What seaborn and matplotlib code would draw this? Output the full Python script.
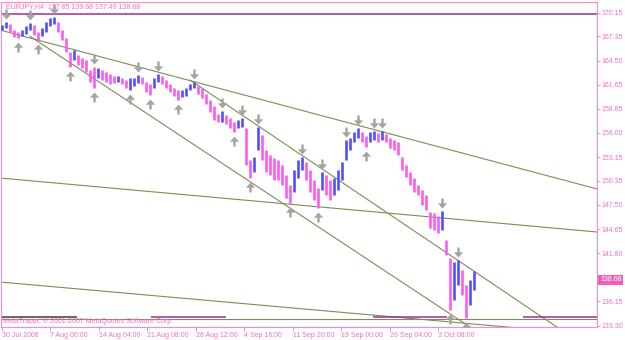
import matplotlib
matplotlib.use("Agg")
import numpy as np
import pandas as pd
import seaborn as sns
import matplotlib.pyplot as plt
from matplotlib.path import Path
from matplotlib import transforms

sns.set_style("white")
plt.rcParams['font.family'] = ['Liberation Sans', 'DejaVu Sans']

# ---------------- data (EURJPY H4) ----------------
high = [168.70, 169.05, 168.82, 168.11, 167.88, 168.11, 168.58, 168.94, 168.70, 167.88,
        168.35, 169.05, 169.53, 169.64, 169.05, 168.11, 167.17, 165.52, 165.76, 165.17,
        164.81, 164.58, 163.40, 163.75, 163.64, 163.40, 163.17, 162.93, 162.69, 162.69,
        162.46, 162.22, 162.46, 162.46, 162.81, 162.58, 161.99, 161.75, 162.46, 162.93,
        162.69, 162.22, 161.75, 161.28, 161.05, 161.05, 161.28, 161.75, 161.99, 161.52,
        161.28, 160.58, 159.87, 159.16, 158.22, 158.57, 158.10, 157.75, 157.28, 157.51,
        157.75, 156.57, 152.80, 153.16, 156.69, 155.75, 153.98, 153.39, 153.04, 152.80,
        152.21, 151.04, 149.86, 151.62, 152.80, 153.16, 152.57, 151.62, 150.45, 149.50,
        151.39, 151.04, 150.45, 150.68, 151.62, 152.57, 155.16, 155.39, 156.10, 156.57,
        156.10, 155.63, 156.10, 156.22, 155.98, 156.22, 155.87, 155.39, 155.16, 154.92,
        153.16, 152.21, 151.39, 150.68, 149.86, 149.27, 148.68, 146.68, 146.56, 146.21,
        146.80, 143.38, 141.26, 140.79, 141.03, 139.85, 138.08, 138.67, 139.68]
low = [168.11, 168.35, 167.88, 167.29, 167.17, 167.41, 167.64, 168.11, 167.52, 166.94,
       167.41, 167.88, 168.58, 168.82, 167.88, 166.94, 165.52, 163.75, 164.58, 163.99,
       163.64, 163.17, 161.99, 161.28, 162.46, 162.22, 161.99, 161.75, 161.87, 161.99,
       161.75, 161.28, 161.05, 161.52, 161.87, 161.75, 160.81, 160.46, 161.28, 161.99,
       161.75, 161.28, 160.81, 160.34, 159.87, 160.22, 160.34, 161.05, 161.28, 160.58,
       160.10, 159.40, 158.46, 157.51, 157.28, 157.28, 157.04, 156.57, 156.10, 156.57,
       156.69, 152.21, 150.68, 151.39, 153.98, 152.80, 151.39, 151.04, 150.45, 150.45,
       149.86, 148.33, 147.74, 149.03, 150.68, 151.62, 150.45, 149.03, 148.09, 147.15,
       149.27, 148.68, 148.09, 148.68, 149.27, 150.45, 152.80, 153.98, 154.92, 155.39,
       154.92, 154.33, 154.92, 155.16, 154.92, 155.16, 154.92, 154.22, 153.98, 153.39,
       151.62, 150.80, 149.86, 149.03, 148.68, 147.50, 146.91, 144.79, 144.56, 144.21,
       144.56, 141.61, 135.14, 136.31, 138.08, 136.90, 134.19, 135.73, 137.49]

last_ohlc = [137.85, 139.68, 137.49, 138.68]

fractal_down = [1, 7, 13, 23, 34, 39, 48, 55, 60, 64, 75, 80, 86, 89, 93, 95, 110, 114]
fractal_up = [4, 9, 17, 23, 32, 37, 44, 58, 62, 72, 79, 91, 112, 116]

date_labels = ["30 Jul 2008", "7 Aug 00:00", "14 Aug 04:00", "21 Aug 08:00",
               "28 Aug 12:00", "4 Sep 16:00", "11 Sep 20:00", "19 Sep 00:00",
               "26 Sep 04:00", "3 Oct 08:00"]
bars_per_label = 12.1125

price_ticks = [170.15, 167.35, 164.50, 161.65, 158.85, 156.00, 153.15, 150.35,
               147.50, 144.65, 141.80, 139.00, 136.15, 133.30]
hidden_tick = 139.00  # covered by the current-price box

# trend lines (bar index, price) -> (bar index, price)
trend_x0 = [-0.5, 7.0, 47.0, -0.5, -0.5, -0.5]
trend_p0 = [168.11, 167.37, 162.22, 150.68, 138.43, 134.10]
trend_x1 = [148.75, 129.5, 148.75, 148.75, 148.75, 148.75]
trend_p1 = [149.39, 129.23, 129.95, 144.32, 132.19, 134.10]

# horizontal level segments (bar index ranges, price)
level_x0 = [-0.5, -0.5, 37.25, 92.75, 130.25]
level_x1 = [148.75, 18.75, 56.0, 111.25, 148.75]
level_p = [169.94, 134.27, 134.27, 134.27, 134.27]
level_c = ["#993399", "#5a2a5a", "#993399", "#993399", "#993399"]

# ---------------- styling ----------------
PINK = "#F070C8"
SPINE = "#FF88C8"
UP_C = "#5050FF"
DN_C = "#FF5AF0"
LINE_C = "#7F8C55"
ARROW_C = "#A4A4A4"

W, H = 625, 340
fig = plt.figure(figsize=(W / 100, H / 100), dpi=100)
ax = fig.add_axes([1 / W, 1 - 327 / H, 596 / W, 325 / H])
ax.set_facecolor("white")

n = len(high)
idx = np.arange(n)
df = pd.DataFrame({"i": idx, "high": high, "low": low})
df["mid"] = (df["high"] + df["low"]) / 2
df["up"] = df["mid"].diff().fillna(0) >= 0

# trend lines
for x0, p0, x1, p1 in zip(trend_x0, trend_p0, trend_x1, trend_p1):
    sns.lineplot(x=[x0, x1], y=[p0, p1], ax=ax, color=LINE_C, lw=0.8,
                 estimator=None, sort=False, zorder=2)

# horizontal levels
for x0, x1, p, c in zip(level_x0, level_x1, level_p, level_c):
    ax.hlines(p, x0, x1, colors=c, lw=1.1, zorder=2)

# bars
for up, sub in df.groupby("up"):
    ax.vlines(sub["i"], sub["low"], sub["high"], colors=UP_C if up else DN_C,
              lw=1.9, zorder=3)

# fractal arrows
down_arrow = Path([(-0.12, 0.5), (0.12, 0.5), (0.12, 0.02), (0.46, 0.02),
                   (0.0, -0.5), (-0.46, 0.02), (-0.12, 0.02), (-0.12, 0.5)],
                  [Path.MOVETO] + [Path.LINETO] * 6 + [Path.CLOSEPOLY])
up_arrow = Path([(x, -y) for x, y in down_arrow.vertices], down_arrow.codes)
off_dn = transforms.offset_copy(ax.transData, fig=fig, y=6.0, units="points")
off_up = transforms.offset_copy(ax.transData, fig=fig, y=-6.4, units="points")
ax.scatter(df.loc[fractal_down, "i"], df.loc[fractal_down, "high"], marker=down_arrow,
           s=52, c=ARROW_C, lw=0, transform=off_dn, zorder=4)
ax.scatter(df.loc[fractal_up, "i"], df.loc[fractal_up, "low"], marker=up_arrow,
           s=52, c=ARROW_C, lw=0, transform=off_up, zorder=4)

# axes
ax.set_xlim(-0.25, 148.75)
ax.set_ylim(133.13, 171.41)
ax.yaxis.tick_right()
ax.set_yticks(price_ticks)
ax.set_yticklabels(["" if v == hidden_tick else f"{v:.2f}" for v in price_ticks])
ax.set_xticks([k * bars_per_label for k in range(len(date_labels))])
ax.set_xticklabels(date_labels)
for lbl in ax.get_xticklabels():
    lbl.set_horizontalalignment("left")
ax.tick_params(axis="y", right=True, left=False, length=2.2, width=0.7, colors=SPINE,
               labelcolor=PINK, labelsize=5, pad=1)
ax.tick_params(axis="x", bottom=True, length=3, width=0.7, colors=SPINE,
               labelcolor=PINK, labelsize=5, pad=0.5)
for s in ax.spines.values():
    s.set_color(SPINE)
    s.set_linewidth(0.8)
ax.set_xlabel("")
ax.set_ylabel("")

# current price box
ax.annotate(f"{last_ohlc[3]:.2f}", xy=(1.0, last_ohlc[3]),
            xycoords=("axes fraction", "data"), xytext=(2.2, 0),
            textcoords="offset points", ha="left", va="center", fontsize=5,
            color="white", zorder=6, annotation_clip=False,
            bbox=dict(boxstyle="square,pad=0.25", fc="#F060B8", ec="none"))

fig.text(6 / W, 1 - 7 / H, "EURJPY,H4  " + " ".join(f"{v:.2f}" for v in last_ohlc),
         fontsize=5, color=PINK, ha="left", va="center")
fig.text(3 / W, 1 - 321 / H, "MetaTrader, © 2001-2007 MetaQuotes Software Corp.",
         fontsize=5, color=PINK, ha="left", va="center")

fig.savefig("out.png", dpi=100)
